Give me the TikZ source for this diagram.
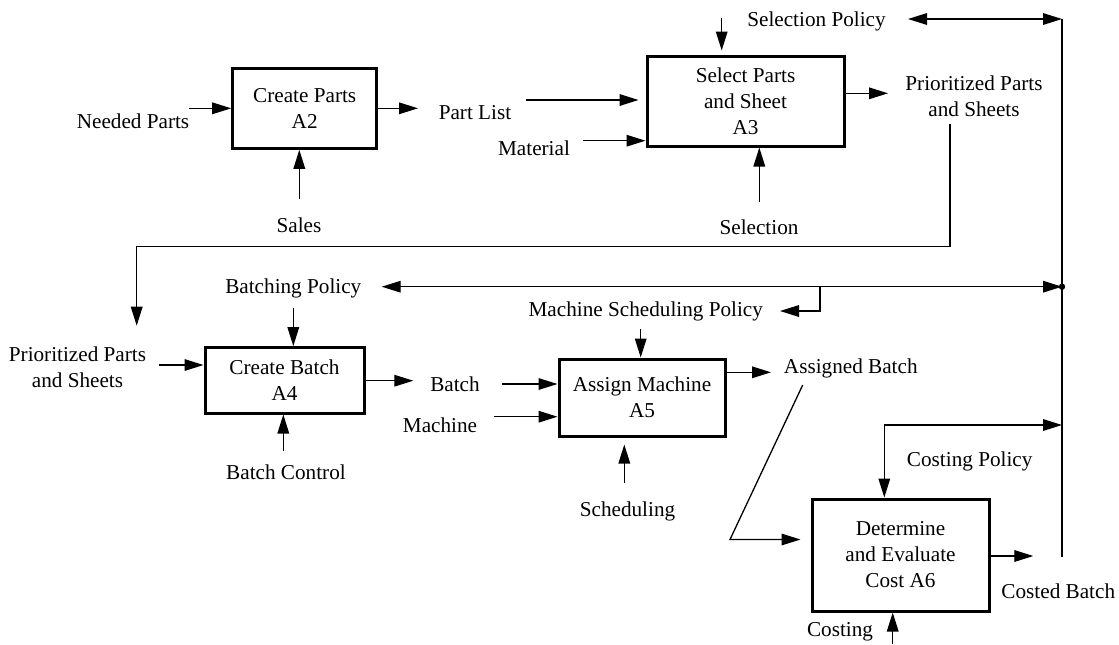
\documentclass[tikz,border=0pt]{standalone}
\usepackage{fontspec}
\setmainfont{Liberation Serif}
\usetikzlibrary{arrows.meta}
\begin{document}
\begin{tikzpicture}[x=0.5pt,y=-0.5pt,
  font=\fontsize{10.6pt}{13pt}\selectfont,
  proc/.style={draw, line width=1.5pt, rectangle, align=center, inner sep=0pt},
  lbl/.style={inner sep=0pt, align=center},
  tip/.tip={Triangle[length=9.5pt,width=5.8pt]},
  flow/.style={line width=0.65pt, -tip},
  flow2/.style={line width=0.65pt, tip-tip},
  wire/.style={line width=0.65pt}]
\useasboundingbox (0,0) rectangle (1119,644);

% activity boxes
\node[proc, minimum width=72pt, minimum height=40pt] (A2) at (304.7,108.3) {Create Parts\\A2};
\node[proc, minimum width=98.5pt, minimum height=45pt] (A3) at (745.5,101) {Select Parts\\and Sheet\\A3};
\node[proc, minimum width=79.5pt, minimum height=32.7pt] (A4) at (284.5,380.3) {Create Batch\\A4};
\node[proc, minimum width=83pt, minimum height=38.5pt] (A5) at (642,397.5) {Assign Machine\\A5};
\node[proc, minimum width=88.5pt, minimum height=56pt] (A6) at (900.5,555) {Determine\\and Evaluate\\Cost A6};

% labels
\node[lbl] (needed) at (133,121) {Needed Parts};
\node[lbl] (sales) at (299,225.7) {Sales};
\node[lbl] (partlist) at (475,112.3) {Part List};
\node[lbl] (material) at (534,148.3) {Material};
\node[lbl] (selpol) at (816.5,21.7) {Selection Policy};
\node[lbl] (prio1) at (974,96.7) {Prioritized Parts\\and Sheets};
\node[lbl] (selection) at (759,227.3) {Selection};
\node[lbl] (batchpol) at (293.3,288) {Batching Policy};
\node[lbl] (prio2) at (77.5,367.5) {Prioritized Parts\\and Sheets};
\node[lbl] (batchctl) at (286,472.5) {Batch Control};
\node[lbl] (batch) at (455,384) {Batch};
\node[lbl] (machine) at (440,425) {Machine};
\node[lbl] (msp) at (645.8,311.7) {Machine Scheduling Policy};
\node[lbl] (scheduling) at (627.5,511.7) {Scheduling};
\node[lbl] (assigned) at (850.8,368.3) {Assigned Batch};
\node[lbl] (costpol) at (969.7,461.7) {Costing Policy};
\node[lbl] (costed) at (1058.3,591.7) {Costed Batch};
\node[lbl] (costing) at (840,631.7) {Costing};

% free ends of the connectors
\coordinate (neededT) at (189,108.3);
\coordinate (salesT) at (299.3,199.3);
\coordinate (a2out) at (418,108.3);
\coordinate (partT) at (526,100);
\coordinate (matT) at (583,140.7);
\coordinate (selpolT) at (721.7,18);
\coordinate (busTop) at (1062,19);
\coordinate (selpolL) at (908,19);
\coordinate (a3out) at (888,93.3);
\coordinate (selT) at (759.3,201.7);
\coordinate (prioS) at (950,124);
\coordinate (prioL) at (136.7,246.7);
\coordinate (prioE) at (136.7,325.7);
\coordinate (busBot) at (1062,557);
\coordinate (bpL) at (381.7,286.7);
\coordinate (bpR) at (1062,286.7);
\coordinate (mspK) at (820,286.7);
\coordinate (mspE) at (780,311);
\coordinate (bpT) at (293.3,308.3);
\coordinate (prio2T) at (159.3,365);
\coordinate (bcT) at (283.3,450.7);
\coordinate (a4out) at (413.3,380.7);
\coordinate (batchT) at (502.3,384);
\coordinate (machT) at (494,416.7);
\coordinate (mspT) at (640.7,329);
\coordinate (schT) at (624.3,483.3);
\coordinate (a5out) at (771,372.3);
\coordinate (diagT) at (802.7,385);
\coordinate (diagB) at (730,539.5);
\coordinate (cpR) at (1062,425);
\coordinate (cpK) at (884.3,425);
\coordinate (a6out) at (1033.3,556);
\coordinate (costT) at (892.7,644);

% A2
\draw[flow] (neededT) -- (neededT -| A2.west);
\draw[flow] (salesT) -- (salesT |- A2.south);
\draw[flow] (a2out -| A2.east) -- (a2out);

% A3
\draw[flow, shorten >=3.5pt] (partT) -- (partT -| A3.west);
\draw[flow] (matT) -- (matT -| A3.west);
\draw[flow, shorten >=2pt] (selpolT) -- (selpolT |- A3.north);
\draw[flow2] (selpolL) -- (busTop);
\draw[flow] (a3out -| A3.east) -- (a3out);
\draw[flow] (selT) -- (selT |- A3.south);

% feedback of prioritized parts to A4
\draw[flow] (prioS) |- (prioL) -- (prioE);

% policy bus
\draw[wire] (busTop) -- (busBot);
\draw[flow2] (bpL) -- (bpR);
\fill (bpR) circle (1.6pt);
\draw[flow] (mspK) |- (mspE);

% A4
\draw[flow] (bpT) -- (bpT |- A4.north);
\draw[flow] (prio2T) -- (prio2T -| A4.west);
\draw[flow] (bcT) -- (bcT |- A4.south);
\draw[flow] (a4out -| A4.east) -- (a4out);

% A5
\draw[flow] (batchT) -- (batchT -| A5.west);
\draw[flow] (machT) -- (machT -| A5.west);
\draw[flow] (mspT) -- (mspT |- A5.north);
\draw[flow, shorten >=3.5pt] (schT) -- (schT |- A5.south);
\draw[flow] (a5out -| A5.east) -- (a5out);

% A6
\draw[flow, shorten >=5pt] (diagT) -- (diagB) -- (diagB -| A6.west);
\draw[flow2] (cpR) -- (cpK) -- (cpK |- A6.north);
\draw[flow] (a6out -| A6.east) -- (a6out);
\draw[flow] (costT) -- (costT |- A6.south);
\end{tikzpicture}
\end{document}
